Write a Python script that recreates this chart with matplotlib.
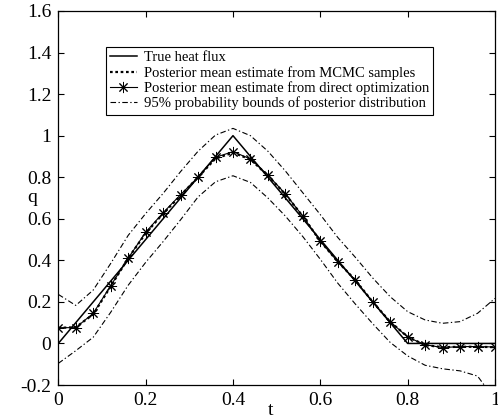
import numpy as np
import matplotlib
matplotlib.use("Agg")
import matplotlib.pyplot as plt

plt.rcParams['font.family'] = ['Liberation Serif', 'DejaVu Serif']

# True heat flux (piecewise linear)
t_true = [0.0, 0.4, 0.8, 1.0]
q_true = [0.0, 1.0, 0.0, 0.0]

# Estimates sampled every 0.04
t_est = [0.00, 0.04, 0.08, 0.12, 0.16, 0.20, 0.24, 0.28, 0.32, 0.36, 0.40, 0.44, 0.48,
         0.52, 0.56, 0.60, 0.64, 0.68, 0.72, 0.76, 0.80, 0.84, 0.88, 0.92, 0.96, 1.00]

q_mcmc = [0.075, 0.078, 0.140, 0.275, 0.410, 0.530, 0.625, 0.712, 0.800, 0.890, 0.918, 0.886,
          0.808, 0.718, 0.612, 0.492, 0.394, 0.305, 0.200, 0.104, 0.032, -0.008, -0.018,
          -0.016, -0.016, -0.018]

q_opt = [0.076, 0.076, 0.145, 0.278, 0.410, 0.535, 0.629, 0.716, 0.800, 0.896, 0.923, 0.888,
         0.810, 0.720, 0.612, 0.492, 0.393, 0.305, 0.198, 0.105, 0.030, -0.006, -0.020,
         -0.015, -0.015, -0.017]

q_upper = [0.236, 0.183, 0.257, 0.385, 0.520, 0.625, 0.722, 0.827, 0.925, 1.003, 1.035, 1.000,
           0.925, 0.830, 0.725, 0.620, 0.510, 0.415, 0.315, 0.225, 0.153, 0.113, 0.097,
           0.105, 0.145, 0.217]

q_lower = [-0.096, -0.035, 0.030, 0.150, 0.280, 0.390, 0.490, 0.595, 0.705, 0.778, 0.807, 0.775,
           0.700, 0.613, 0.514, 0.405, 0.290, 0.190, 0.095, 0.005, -0.060, -0.105, -0.122,
           -0.132, -0.157, -0.270]

legend_labels = ["True heat flux",
                 "Posterior mean estimate from MCMC samples",
                 "Posterior mean estimate from direct optimization",
                 "95% probability bounds of posterior distribution"]

fig = plt.figure(figsize=(4.98, 4.18), dpi=100)
ax = fig.add_axes([58.3 / 498, (418 - 385) / 418, (495 - 58.3) / 498, (385 - 11) / 418])

dashdot = (0, (5, 2.2, 1.2, 2.2))
ax.plot(t_true, q_true, color='black', lw=1.1, label=legend_labels[0])
ax.plot(t_est, q_mcmc, color='black', lw=1.6, linestyle=(0, (1.2, 1.2)), label=legend_labels[1])
ax.plot(t_est, q_opt, color='black', lw=0.8, marker=(8, 2, 0), markersize=8,
        markeredgewidth=0.7, label=legend_labels[2])
ax.plot(t_est, q_upper, color='black', lw=0.8, linestyle=dashdot, label=legend_labels[3])
ax.plot(t_est, q_lower, color='black', lw=0.8, linestyle=dashdot)

ax.set_xlim(0, 1)
ax.set_ylim(-0.2, 1.6)
ax.set_xticks([0, 0.2, 0.4, 0.6, 0.8, 1.0])
ax.set_xticklabels(['0', '0.2', '0.4', '0.6', '0.8', '1'])
ax.set_yticks([-0.2, 0, 0.2, 0.4, 0.6, 0.8, 1.0, 1.2, 1.4, 1.6])
ax.set_yticklabels(['-0.2', '0', '0.2', '0.4', '0.6', '0.8', '1', '1.2', '1.4', '1.6'])
ax.tick_params(direction='in', length=4, width=0.8, top=True, right=True,
               labelsize=14, pad=5)
for s in ax.spines.values():
    s.set_linewidth(0.9)

ax.set_xlabel('t', fontsize=14, va='center')
ax.xaxis.set_label_coords(0.485, -0.068)
ax.set_ylabel('q', fontsize=14, rotation=0, va='center', ha='center')
ax.yaxis.set_label_coords(-0.059, 0.5)

leg = ax.legend(loc='upper left', bbox_to_anchor=(0.109, 0.904), fontsize=10.5,
                frameon=True, fancybox=False, edgecolor='black', framealpha=1,
                borderpad=0.3, labelspacing=0.1, handlelength=1.8, handletextpad=0.5,
                borderaxespad=0)
leg.get_frame().set_linewidth(0.8)

fig.savefig('out.png', dpi=100)
